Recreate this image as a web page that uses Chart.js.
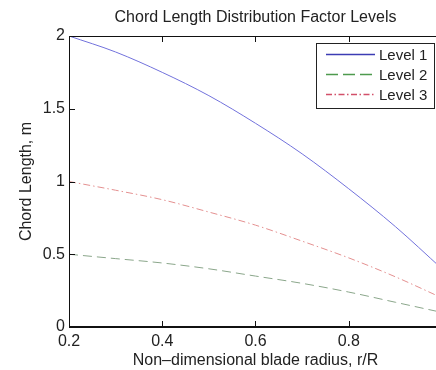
<!DOCTYPE html>
<html><head><meta charset="utf-8">
<script src="https://cdn.jsdelivr.net/npm/chart.js@4.4.0/dist/chart.umd.min.js"></script>
<style>
html,body{margin:0;padding:0;background:#fff;overflow:hidden;width:436px;height:370px}
#wrap{position:absolute;left:0;top:0;width:460px;height:370px}
</style>
</head><body><div id="wrap"><canvas id="c" width="460" height="370"></canvas></div>
<script>
// ---- data ----
const radius = [0.2, 0.3, 0.4, 0.5, 0.6, 0.7, 0.8, 0.9, 1.0];
const level1 = [2.00, 1.89, 1.75, 1.59, 1.40, 1.19, 0.95, 0.69, 0.40];
const level2 = [0.50, 0.47, 0.44, 0.40, 0.35, 0.30, 0.24, 0.17, 0.10];
const level3 = [1.00, 0.94, 0.875, 0.79, 0.70, 0.59, 0.475, 0.345, 0.20];
const seriesNames = ['Level 1', 'Level 2', 'Level 3'];
const xTicks = [0.2, 0.4, 0.6, 0.8, 1.0];
const xTickLabels = ['0.2', '0.4', '0.6', '0.8', '1'];
const yTicks = [0, 0.5, 1, 1.5, 2];
const yTickLabels = ['0', '0.5', '1', '1.5', '2'];
const titleText = 'Chord Length Distribution Factor Levels';
const xTitle = 'Non\u2013dimensional blade radius, r/R';
const yTitle = 'Chord Length, m';

const FONT = '"Liberation Sans", Arial, Helvetica, sans-serif';
const TXT = '#222';
const AXIS = '#111';

function pts(vals) { return radius.map((r, i) => ({ x: r, y: vals[i] })); }
function lab(list, labels, v) {
  const i = list.findIndex(t => Math.abs(t - v) < 1e-9);
  return i >= 0 ? labels[i] : '';
}

// box around the axes + inward tick marks (MATLAB style), positioned by the chart's scales
const framePlugin = {
  id: 'axesFrame',
  afterDraw(chart) {
    const ctx = chart.ctx, a = chart.chartArea, x = chart.scales.x, y = chart.scales.y;
    const L = Math.round(a.left), R = Math.round(a.right) - 1;
    const T = Math.round(a.top), B = Math.round(a.bottom) - 1;
    ctx.save();
    ctx.fillStyle = AXIS;
    ctx.fillRect(L, T, R - L + 1, 1);   // top
    ctx.fillRect(L, B, R - L + 1, 1);   // bottom
    ctx.fillRect(L, T, 1, B - T + 1);   // left
    ctx.fillRect(R, T, 1, B - T + 1);   // right
    const tl = 5;
    x.ticks.forEach(t => {
      const px = Math.round(x.getPixelForValue(t.value));
      ctx.fillRect(px, B - tl, 1, tl);
      ctx.fillRect(px, T + 1, 1, tl);
    });
    y.ticks.forEach(t => {
      const py = Math.round(y.getPixelForValue(t.value));
      ctx.fillRect(L + 1, py, tl, 1);
      ctx.fillRect(R - tl, py, tl, 1);
    });
    ctx.restore();
    drawLegend(chart);
  }
};

function drawLegend(chart) {
  const ctx = chart.ctx, a = chart.chartArea;
  const w = 118, h = 65;
  const left = Math.round(a.right) - 8 - w, top = Math.round(a.top) + 7;
  ctx.save();
  ctx.fillStyle = '#fff'; ctx.fillRect(left, top, w, h);
  ctx.fillStyle = '#222';
  ctx.fillRect(left, top, w, 1); ctx.fillRect(left, top + h, w + 1, 1);
  ctx.fillRect(left, top, 1, h); ctx.fillRect(left + w, top, 1, h);
  ctx.font = '15px ' + FONT; ctx.textBaseline = 'middle'; ctx.textAlign = 'left';
  chart.data.datasets.forEach((ds, i) => {
    const yy = Math.round(top + 11 + i * 20) + 0.5;
    ctx.strokeStyle = ds.legendColor || ds.borderColor;
    ctx.lineWidth = 1.3;
    ctx.setLineDash(ds.legendDash || ds.borderDash || []);
    ctx.beginPath(); ctx.moveTo(left + 10, yy); ctx.lineTo(left + 59, yy); ctx.stroke();
    ctx.setLineDash([]);
    ctx.fillStyle = TXT;
    ctx.fillText(ds.label, left + 63, yy + 1);
  });
  ctx.restore();
}

new Chart(document.getElementById('c'), {
  type: 'line',
  data: {
    datasets: [
      { label: seriesNames[0], data: pts(level1), borderColor: '#7272dc', legendColor: '#3c3cb4',
        borderWidth: 1, pointRadius: 0, cubicInterpolationMode: 'monotone', fill: false },
      { label: seriesNames[1], data: pts(level2), borderColor: '#8aa68a', legendColor: '#4e9a4e',
        borderWidth: 1, borderDash: [9, 5], legendDash: [12, 5], pointRadius: 0, cubicInterpolationMode: 'monotone', fill: false },
      { label: seriesNames[2], data: pts(level3), borderColor: '#e49090', legendColor: '#d2506a',
        borderWidth: 1, borderDash: [7, 3, 1.5, 3], legendDash: [6, 2.5, 1.5, 2.5], pointRadius: 0, cubicInterpolationMode: 'monotone', fill: false }
    ]
  },
  options: {
    responsive: false,
    animation: false,
    layout: { padding: { left: 0, right: 18, top: 0, bottom: 0 } },
    plugins: {
      legend: { display: false },
      tooltip: { enabled: false },
      title: { display: true, text: titleText, fullSize: false, color: TXT,
        font: { size: 16, weight: 'normal', family: FONT }, padding: { top: 8, bottom: 8.8 } }
    },
    scales: {
      x: {
        type: 'linear', min: 0.2, max: 1.0,
        grid: { display: false, drawTicks: false, tickLength: 0 },
        border: { display: true, color: AXIS, width: 1 },
        afterBuildTicks: s => { s.ticks = xTicks.map(v => ({ value: v })); },
        afterFit: s => { s.height = 43; },
        ticks: { padding: 5, color: TXT, font: { size: 16, family: FONT }, maxRotation: 0, autoSkip: false,
          callback: v => lab(xTicks, xTickLabels, v) },
        title: { display: true, text: xTitle, color: TXT, font: { size: 16, family: FONT }, padding: { top: 0, bottom: 0 } }
      },
      y: {
        type: 'linear', min: 0, max: 2,
        grid: { display: false, drawTicks: false, tickLength: 0 },
        border: { display: true, color: AXIS, width: 1 },
        afterBuildTicks: s => { s.ticks = yTicks.map(v => ({ value: v })); },
        afterFit: s => { s.width = 69; },
        ticks: { padding: 4, color: TXT, font: { size: 16, family: FONT }, autoSkip: false,
          callback: v => lab(yTicks, yTickLabels, v) },
        title: { display: true, text: yTitle, color: TXT, font: { size: 16, family: FONT }, padding: { top: 17, bottom: 0 } }
      }
    }
  },
  plugins: [framePlugin]
});
</script>
</body></html>
